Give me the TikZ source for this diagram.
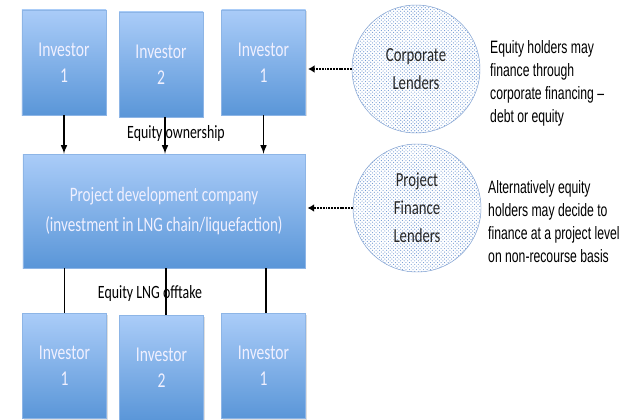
\documentclass[tikz,border=0pt]{standalone}
\usepackage{fontspec}
\setmainfont{Carlito}
\newfontfamily\boxfont[FakeStretch=0.74]{Carlito}
\newfontfamily\notefont[FakeStretch=0.68]{Liberation Sans}
\usetikzlibrary{shadows,patterns,arrows.meta}
\definecolor{boxtop}{HTML}{AACCF8}
\definecolor{boxbot}{HTML}{5A96D8}
\definecolor{boxline}{HTML}{8DB5E6}
\definecolor{lendline}{HTML}{7C9ED0}
\definecolor{lenddot}{HTML}{7098D2}
\colorlet{fg}{black}
\tikzset{
  investor/.style={draw=boxline, top color=boxtop, bottom color=boxbot, text=white!94!blue,
    minimum width=2.52cm, minimum height=3.15cm, align=center, inner sep=0pt,
    font=\boxfont\fontsize{18}{22}\selectfont,
    drop shadow={opacity=0.25, shadow xshift=1.2pt, shadow yshift=-1.2pt}},
  company/.style={investor, minimum width=8.46cm, minimum height=3.42cm,
    font=\boxfont\fontsize{17.5}{25}\selectfont},
  lender/.style={circle, draw=lendline, minimum size=3.84cm, align=center, text=fg!85,
    preaction={fill=white}, pattern=crosshatch dots, pattern color=lenddot,
    font=\boxfont\fontsize{17}{24}\selectfont},
  note/.style={anchor=west, align=left, inner sep=0pt, text=fg,
    font=\notefont\fontsize{15.3}{19.6}\selectfont},
  flowlabel/.style={text=fg, font=\boxfont\fontsize{16}{18}\selectfont},
  lendarrow/.style={fg, line width=2.2pt, dash pattern=on 1.6pt off 0.8pt,
    -{Latex[length=5.5pt,width=6.5pt]}, shorten >=2pt}
}

\begin{document}
\begin{tikzpicture}[x=0.03cm, y=-0.03cm]
        \clip (0,0) rectangle (629,419);
        \fill[white] (0,0) rectangle (629,419);

        % investors on top
        \node[investor] (t1) at (64,62.5) {Investor\\1};
        \node[investor] (t2) at (161,64.5) {Investor\\2};
        \node[investor] (t3) at (263.5,62.5) {Investor\\1};

        \node[company] (pdc) at (164,211) {Project development company\\(investment in LNG chain/liquefaction)};

        % offtakers below
        \node[investor] (b1) at (64.5,366) {Investor\\1};
        \node[investor] (b2) at (161.5,368) {Investor\\2};
        \node[investor] (b3) at (263.5,366) {Investor\\1};

        \node[flowlabel] (own) at (176,133) {Equity ownership};
        \node[flowlabel] (off) at (150,293) {Equity LNG offtake};

        \draw[fg,line width=1.5pt,-latex] (t1.south) -- (t1.south |- pdc.north);
        \draw[fg,line width=1.5pt,-latex] ([xshift=0.12cm]t2.south) -- ([xshift=0.12cm]t2.south |- pdc.north);
        \draw[fg,line width=1.5pt,-latex] (t3.south) -- (t3.south |- pdc.north);

        \draw[fg,line width=1.5pt] (pdc.south -| b1) -- (b1.north);
        \draw[fg,line width=1.5pt] ([xshift=0.14cm]pdc.south -| b2) -- ([xshift=0.14cm]b2.north);
        \draw[fg,line width=1.5pt] ([xshift=0.08cm]pdc.south -| b3) -- ([xshift=0.08cm]b3.north);

        % lenders
        \node[lender] (corp) at (416,69) {Corporate\\Lenders};
        \node[lender] (pfl) at (417,208) {Project\\Finance\\Lenders};

        \draw[lendarrow] (corp.west) -- (corp.west -| t3.east);
        \draw[lendarrow] (pfl.west) -- (pfl.west -| pdc.east);

        \node[note] (corpnote) at (490,83) {Equity holders may\\finance through\\corporate financing –\\debt or equity};
        \node[note] (pflnote) at (488,222) {Alternatively equity\\holders may decide to\\finance at a project level\\on non-recourse basis};
      \end{tikzpicture}
\end{document}
